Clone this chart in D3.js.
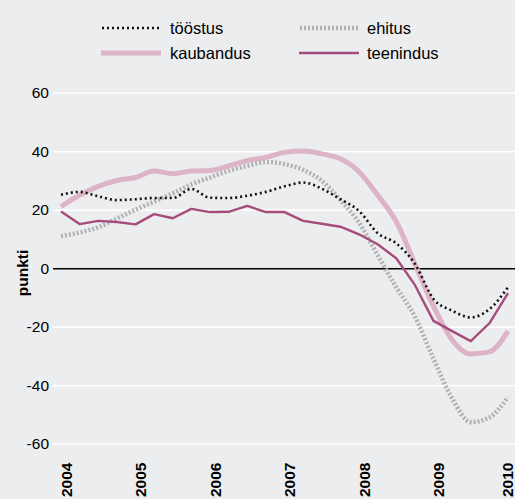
<!DOCTYPE html>
<html>
<head>
<meta charset="utf-8">
<script src="https://cdn.jsdelivr.net/npm/d3@7"></script>
<style>
  body { margin: 0; background: #ecedef; }
  svg { display: block; font-family: "Liberation Sans", Arial, sans-serif; }
</style>
</head>
<body>
<svg id="chart" width="515" height="499"></svg>
<script>
// quarterly, 2004 Q1 .. 2010 Q1
const quarters = d3.range(25).map(i => 2004 + i / 4);
const years = [2004, 2005, 2006, 2007, 2008, 2009, 2010];
const yTicks = [60, 40, 20, 0, -20, -40, -60];

const toostus = [25.1, 26.1, 24.6, 23.3, 23.6, 24.0, 24.0, 27.1, 24.1, 24.0, 24.8, 26.1, 28.0,
  29.3, 27.2, 23.6, 19.6, 12.0, 8.5, 1.5, -10.5, -14.5, -16.8, -14.0, -6.5];
const ehitus = [11.0, 12.2, 14.0, 17.0, 20.0, 22.8, 25.6, 28.7, 31.0, 33.3, 35.0, 36.3, 35.6,
  33.6, 29.9, 23.3, 15.6, 4.5, -6.5, -16.5, -31.0, -44.5, -52.6, -51.0, -44.0];
const kaubandus = [21.1, 25.0, 28.0, 30.0, 31.0, 33.2, 32.3, 33.2, 33.4, 35.0, 36.8, 37.9, 39.6,
  40.1, 39.1, 37.4, 33.0, 25.0, 16.0, 1.5, -13.0, -24.5, -29.3, -28.6, -21.5];
const teenindus = [19.4, 15.1, 16.2, 15.8, 15.0, 18.5, 17.1, 20.3, 19.2, 19.3, 21.3, 19.2, 19.2,
  16.2, 15.2, 14.2, 11.6, 8.2, 3.4, -5.7, -18.0, -21.5, -24.9, -18.8, -8.5];

const series = [
  { name: "kaubandus", values: kaubandus, color: "#dcb4c5", width: 5, dash: null, curve: d3.curveMonotoneX },
  { name: "ehitus", values: ehitus, color: "#b1b1b3", width: 4.5, dash: "2,2", curve: d3.curveMonotoneX },
  { name: "tööstus", values: toostus, color: "#111", width: 2.6, dash: "2,3", curve: d3.curveMonotoneX },
  { name: "teenindus", values: teenindus, color: "#a64c7c", width: 2.4, dash: null, curve: d3.curveLinear }
];

const svg = d3.select("#chart");
const x = d3.scaleLinear().domain([2004, 2010]).range([61, 508]);
const y = d3.scaleLinear().domain([-60, 60]).range([443.8, 92.7]);

// gridlines + y labels
const yAxis = svg.append("g")
  .attr("transform", "translate(53,0)")
  .call(d3.axisLeft(y).tickValues(yTicks).tickSize(-462).tickPadding(4).tickFormat(d3.format("d")));
yAxis.select(".domain").remove();
yAxis.selectAll("line")
  .attr("stroke", d => d === 0 ? "#000" : "#fff")
  .attr("stroke-width", d => d === 0 ? 1.3 : 1.5);
yAxis.selectAll("text")
  .attr("fill", "#000")
  .style("font-size", "15.5px")
  .text(d => d < 0 ? "-" + Math.abs(d) : d);

svg.append("text")
  .attr("transform", "translate(23,273) rotate(-90)")
  .attr("text-anchor", "middle")
  .attr("dy", "0.35em")
  .style("font-size", "15.5px")
  .style("font-weight", "bold")
  .text("punkti");

// year labels
svg.append("g").selectAll("text")
  .data(years)
  .enter().append("text")
  .attr("transform", d => `translate(${Math.min(x(d) + 5, 507)},497) rotate(-90)`)
  .attr("dy", "0.36em")
  .style("font-size", "15.5px")
  .style("font-weight", "bold")
  .text(d => d);

// lines
svg.append("g").selectAll("path")
  .data(series)
  .enter().append("path")
  .attr("fill", "none")
  .attr("stroke", d => d.color)
  .attr("stroke-width", d => d.width)
  .attr("stroke-dasharray", d => d.dash)
  .attr("stroke-linejoin", "round")
  .attr("d", d => d3.line()
    .x((v, i) => x(quarters[i]))
    .y(v => y(v))
    .curve(d.curve)(d.values));

// legend
const legendItems = [
  { s: series[2], lx: 102, tx: 170, ly: 28 },
  { s: series[1], lx: 300, tx: 367, ly: 28 },
  { s: series[0], lx: 101, tx: 170, ly: 53 },
  { s: series[3], lx: 299, tx: 367, ly: 53 }
];
const legend = svg.append("g");
legendItems.forEach(it => {
  legend.append("line")
    .attr("x1", it.lx).attr("x2", it.lx + 60)
    .attr("y1", it.ly).attr("y2", it.ly)
    .attr("stroke", it.s.color)
    .attr("stroke-width", it.s.width)
    .attr("stroke-dasharray", it.s.dash);
  legend.append("text")
    .attr("x", it.tx).attr("y", it.ly)
    .attr("dy", "0.35em")
    .style("font-size", "16.5px")
    .text(it.s.name);
});
</script>
</body>
</html>
